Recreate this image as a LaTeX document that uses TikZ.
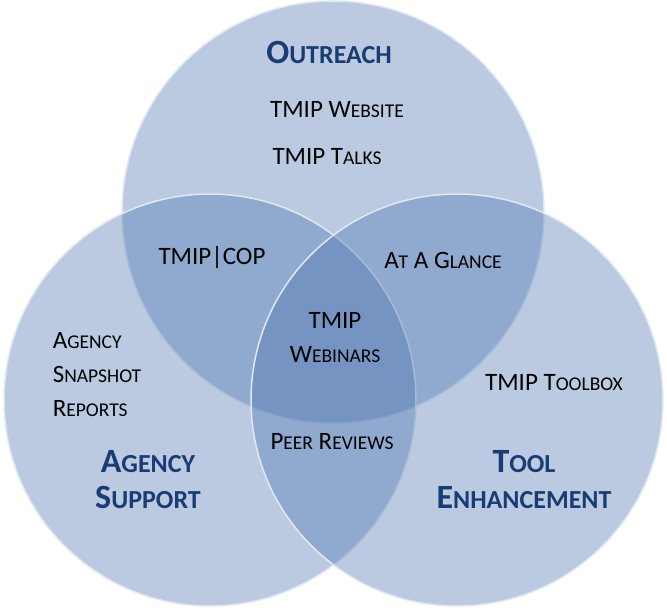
\documentclass[tikz,border=0pt]{standalone}
\usepackage{fontspec}
\setmainfont{Carlito}
\definecolor{ring}{RGB}{75,115,175}
\definecolor{rim}{RGB}{225,232,242}
\definecolor{head}{RGB}{25,60,115}
\newcommand\bsm[1]{{\fontsize{19.5}{24}\selectfont #1}}
\newcommand\hsm[1]{{\fontsize{26}{30}\selectfont #1}}
\tikzset{
  circ/.style={fill=ring,fill opacity=0.38,draw=rim,line width=1.5pt},
  body/.style={font=\fontsize{25}{34}\selectfont,align=center,text=black},
  heading/.style={font=\fontsize{34}{36}\selectfont\bfseries,align=center,text=head}
}
\begin{document}
\begin{tikzpicture}[x=1pt,y=-1pt]
\useasboundingbox (0,0) rectangle (667,614);
%circles
\draw[circ] (333,212) circle (211);
\draw[circ] (210,400) circle (206);
\draw[circ] (457,400) circle (206);
%headings
\node[heading] (outreach) at (329,52) {O\hsm{UTREACH}};
\node[heading] (agency) at (148,480) {A\hsm{GENCY}\\S\hsm{UPPORT}};
\node[heading] (tool) at (524,480) {T\hsm{OOL}\\E\hsm{NHANCEMENT}};
%items
\node[body] (website) at (337,110) {TMIP W\bsm{EBSITE}};
\node[body] (talks) at (327,157) {TMIP T\bsm{ALKS}};
\node[body] (cop) at (212,258) {TMIP|COP};
\node[body] (glance) at (443,260) {A\bsm{T} A G\bsm{LANCE}};
\node[body] (webinars) at (335,338) {TMIP\\W\bsm{EBINARS}};
\node[body,align=left] (snapshot) at (97,375) {A\bsm{GENCY}\\S\bsm{NAPSHOT}\\R\bsm{EPORTS}};
\node[body] (toolbox) at (554,383) {TMIP T\bsm{OOLBOX}};
\node[body] (peer) at (332,442) {P\bsm{EER} R\bsm{EVIEWS}};
\end{tikzpicture}
\end{document}
